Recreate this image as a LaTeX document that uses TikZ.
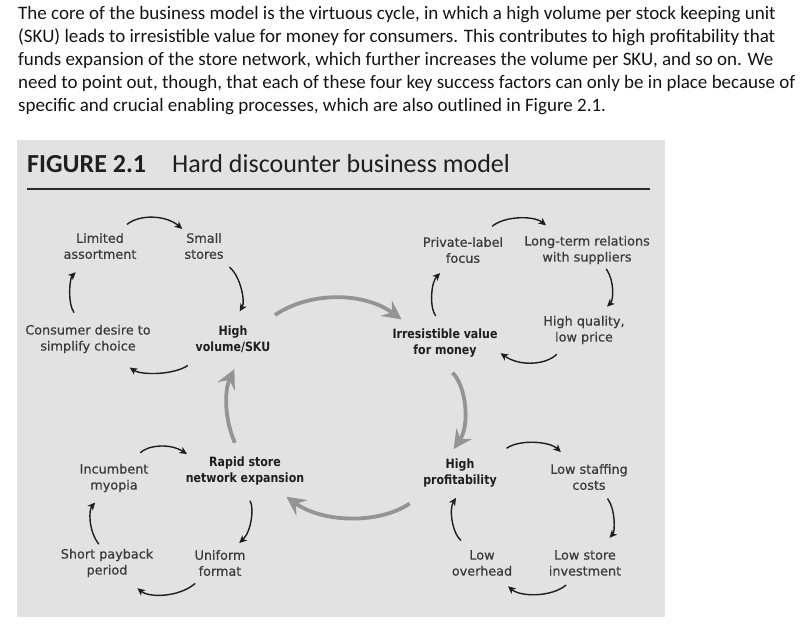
\documentclass[tikz,border=0pt]{standalone}
\usepackage{fontspec}
\newfontfamily\bodyfont{Carlito}
\newfontfamily\labelfont[FakeBold=0.45]{DejaVu Sans}
\newfontfamily\keyfont[FakeStretch=0.86]{DejaVu Sans}
\usetikzlibrary{arrows.meta}
\definecolor{panel}{RGB}{226,226,226}
\definecolor{labelgray}{RGB}{58,58,58}
\definecolor{keygray}{RGB}{30,30,30}
\definecolor{loopgray}{RGB}{30,30,30}
\definecolor{flowgray}{RGB}{148,148,148}
\definecolor{rulegray}{RGB}{45,45,45}

\begin{document}
\begin{tikzpicture}[x=1pt, y=1pt,
    factor/.style={align=center, inner sep=2pt, text=labelgray, font=\labelfont\fontsize{12.8}{16}\selectfont},
    keyfactor/.style={factor, text=keygray, font=\keyfont\bfseries\fontsize{12.8}{16}\selectfont},
    arrow/.style={-{Stealth[length=7.5pt,width=7pt,inset=2pt]}, line width=1.4pt, draw=loopgray, bend left=40},
    bigarrow/.style={-{Stealth[length=19pt,width=19pt,inset=7pt]}, line width=3.8pt, draw=flowgray, bend left=35}
]
    \useasboundingbox (0,0) rectangle (804,-629);
    \fill[panel] (17,-140) rectangle (665,-617);

    \node[anchor=north west, inner sep=0pt, align=left, font=\bodyfont\fontsize{19}{23}\selectfont, text=black!92] (intro) at (18,-6)
        {The core of the business model is the virtuous cycle, in which a high volume per stock keeping unit\\
         (SKU) leads to irresistible value for money for consumers. This contributes to high profitability that\\
         funds expansion of the store network, which further increases the volume per SKU, and so on. We\\
         need to point out, though, that each of these four key success factors can only be in place because of\\
         specific and crucial enabling processes, which are also outlined in Figure 2.1.};
    \node[anchor=base west, inner sep=0pt, font=\bodyfont\fontsize{26}{30}\selectfont, text=black!88] (title) at (27,-172)
        {\textbf{FIGURE 2.1}\hspace{26pt}Hard discounter business model};
    \draw[line width=1.6pt, draw=rulegray] (27,-189) -- (650,-189);

    \node[factor] (limited) at (100,-246) {Limited\\assortment};
    \node[factor] (small) at (204,-246) {Small\\stores};
    \node[factor] (desire) at (88,-339) {Consumer desire to\\simplify choice};
    \node[keyfactor] (volume) at (233,-339) {High\\volume/SKU};

    \node[factor] (privlabel) at (463,-250) {Private-label\\focus};
    \node[factor] (suppliers) at (587,-250) {Long-term relations\\with suppliers};
    \node[factor] (quality) at (584,-330) {High quality,\\low price};
    \node[keyfactor] (value) at (445,-343) {Irresistible value\\for money};

    \node[factor] (myopia) at (114,-478) {Incumbent\\myopia};
    \node[keyfactor] (expansion) at (245,-471) {Rapid store\\network expansion};
    \node[factor] (payback) at (107,-563) {Short payback\\period};
    \node[factor] (format) at (220,-563) {Uniform\\format};

    \node[keyfactor] (profit) at (460,-473) {High\\profitability};
    \node[factor] (staffing) at (589,-477) {Low staffing\\costs};
    \node[factor] (overhead) at (482,-563) {Low\\overhead};
    \node[factor] (investment) at (585,-563) {Low store\\investment};

    \draw[arrow, shorten <=10pt, shorten >=3pt] (limited.38) to (small.142);
    \draw[arrow, shorten <=9pt, shorten >=14pt] (small.-39) to (volume.92);
    \draw[arrow, bend left=34, shorten <=19pt, shorten >=22pt] (volume.208) to (desire.-35);
    \draw[arrow, shorten <=12pt, shorten >=16pt] (desire.114) to (limited.230);

    \draw[arrow, shorten <=13pt, shorten >=13pt] (privlabel.38) to (suppliers.152);
    \draw[arrow, shorten <=3pt, shorten >=10pt] (suppliers.-43) to (quality.46);
    \draw[arrow, shorten <=11pt, shorten >=1pt] (quality.220) to (value.-10);
    \draw[arrow, shorten <=13pt, shorten >=11pt] (value.96) to (privlabel.225);

    \draw[arrow, shorten <=12pt, shorten >=1pt] (myopia.42) to (expansion.164);
    \draw[arrow, shorten <=16pt, shorten >=7pt] (expansion.257) to (format.47);
    \draw[arrow, shorten <=8pt, shorten >=14pt] (format.219) to (payback.-40);
    \draw[arrow, shorten <=3pt, shorten >=11pt] (payback.111) to (myopia.235);

    \draw[arrow, shorten <=14pt, shorten >=14pt] (profit.25) to (staffing.140);
    \draw[arrow, shorten <=8pt, shorten >=14pt] (staffing.-48) to (investment.45);
    \draw[arrow, shorten <=11pt, shorten >=13pt] (investment.235) to (overhead.-43);
    \draw[arrow, shorten <=11pt, shorten >=10pt] (overhead.131) to (profit.-85);

    \draw[bigarrow, shorten <=15pt, shorten >=12pt] (volume.28) to (value.154);
    \draw[bigarrow, bend left=40, shorten <=19pt, shorten >=9pt] (value.-110) to (profit.125);
    \draw[bigarrow, shorten <=25pt, shorten >=16pt] (profit.209) to (expansion.-30);
    \draw[bigarrow, bend left=25, shorten <=13pt, shorten >=16pt] (expansion.106) to (volume.-62);
\end{tikzpicture}
\end{document}
